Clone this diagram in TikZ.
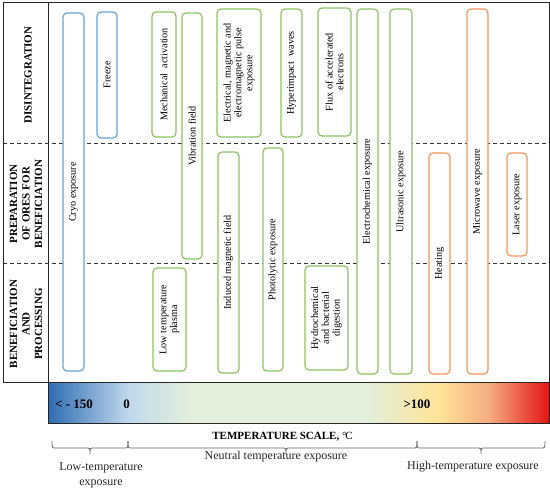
\documentclass[tikz,border=0pt]{standalone}
\usepackage{fontspec}
\setmainfont{Liberation Serif}
\definecolor{bxblue}{RGB}{105,162,220}
\definecolor{bxgreen}{RGB}{140,196,96}
\definecolor{bxorange}{RGB}{244,150,90}
\definecolor{gb1}{RGB}{46,108,178}
\definecolor{gb2}{RGB}{192,216,238}
\definecolor{gg}{RGB}{226,239,218}
\definecolor{gy}{RGB}{255,228,150}
\definecolor{go}{RGB}{244,172,130}
\definecolor{grd}{RGB}{228,20,20}
\pgfdeclarehorizontalshading{tempscale}{100bp}{color(0bp)=(gb1); color(25bp)=(gb1); color(33bp)=(gb2); color(39bp)=(gg); color(57bp)=(gg); color(64bp)=(gy); color(69bp)=(go); color(75bp)=(grd); color(100bp)=(grd)}
\tikzset{
  bx/.style={draw=#1, line width=1.2pt, rounded corners=4pt, fill=white, rotate=90,
    inner sep=1pt, align=center, font=\fontsize{10.2}{10.8}\selectfont},
  phase/.style={rotate=90, align=center, inner sep=0pt, font=\bfseries\fontsize{11}{12.5}\selectfont},
  dashline/.style={dash pattern=on 4pt off 3pt, line width=1pt, black!80},
  framel/.style={line width=1pt, black!85},
  brace/.style={draw=black!60, line width=0.8pt},
  lbl/.style={font=\fontsize{12}{15}\selectfont, align=center, text=black!85, inner sep=0pt},
  scalelbl/.style={font=\bfseries\fontsize{13}{13}\selectfont, inner sep=0pt},
}
\begin{document}
\begin{tikzpicture}[x=1pt,y=-1pt]
\useasboundingbox (0,0) rectangle (550,492);
% dashed separators
\coordinate (d1a) at (3,144); \coordinate (d1b) at (549,144);
\coordinate (d2a) at (3,264); \coordinate (d2b) at (549,264);
\draw[dashline] (d1a) -- (d1b);
\draw[dashline] (d2a) -- (d2b);
% frame
\draw[framel] (3,3) rectangle (549,383);
\draw[framel] (48,3) -- (48,383);
% phase labels
\node[phase] (ph1) at (28,75) {DISINTEGRATION};
\node[phase] (ph2) at (26,204) {PREPARATION\\OF ORES FOR\\BENEFICIATION};
\node[phase] (ph3) at (26,324) {BENEFICIATION\\AND\\PROCESSING};
% boxes
\node[bx=bxblue, minimum width=358pt, minimum height=21pt] (cryo) at (73.5,192) {Cryo exposure};
\node[bx=bxblue, minimum width=126pt, minimum height=20pt] (freeze) at (107,75) {Freeze};
\node[bx=bxgreen, minimum width=125pt, minimum height=24pt] (mech) at (164,74.5) {Mechanical\ \ activation};
\node[bx=bxgreen, minimum width=246pt, minimum height=20pt] (vib) at (192,136) {Vibration field};
\node[bx=bxgreen, minimum width=128pt, minimum height=44pt] (elec) at (239,73) {Electrical, magnetic and\\electromagnetic pulse\\exposure};
\node[bx=bxgreen, minimum width=128pt, minimum height=21pt] (hyper) at (291.5,73) {Hyperimpact\ \ waves};
\node[bx=bxgreen, minimum width=128pt, minimum height=33pt] (flux) at (334.5,72) {Flux of accelerated\\electrons};
\node[bx=bxgreen, minimum width=365pt, minimum height=21pt] (echem) at (367.5,191.5) {Electrochemical exposure};
\node[bx=bxgreen, minimum width=365pt, minimum height=22pt] (ultra) at (401,191.5) {Ultrasonic exposure};
\node[bx=bxorange, minimum width=365pt, minimum height=21pt] (micro) at (477.5,191.5) {Microwave exposure};
\node[bx=bxorange, minimum width=221pt, minimum height=21pt] (heat) at (439.5,263.5) {Heating};
\node[bx=bxorange, minimum width=103pt, minimum height=20pt] (laser) at (517,204.5) {Laser exposure};
\node[bx=bxgreen, minimum width=221pt, minimum height=21pt] (induced) at (228.5,262.5) {Induced magnetic field};
\node[bx=bxgreen, minimum width=223pt, minimum height=20pt] (photo) at (273,259.5) {Photolytic exposure};
\node[bx=bxgreen, minimum width=103pt, minimum height=33pt] (plasma) at (169.5,319.5) {Low temperature\\plasma};
\node[bx=bxgreen, minimum width=104pt, minimum height=43pt] (hydro) at (326.5,318) {Hydrochemical\\and bacterial\\digestion};
% temperature bar
\shade[shading=tempscale] (48,383) rectangle (549,424);
\draw[framel] (48,383) rectangle (549,424);
\node[scalelbl] (tmin) at (74,404) {< - 150};
\node[scalelbl] (tzero) at (126.5,404) {0};
\node[scalelbl] (tmax) at (417,404) {>100};
\node[font=\bfseries\fontsize{11}{11}\selectfont, inner sep=0pt] (title) at (282.5,437) {TEMPERATURE SCALE, {\mdseries °\kern-1.2pt C}};
% braces
\draw[brace] (52,441) .. controls (52,448) .. (56,448) -- (86,448) .. controls (90,448) .. (90,454) .. controls (90,448) .. (94,448) -- (124,448) .. controls (128,448) .. (128,441);
\draw[brace] (128,441) .. controls (128,448) .. (132,448) -- (282,448) .. controls (286,448) .. (286,454) .. controls (286,448) .. (290,448) -- (413,448) .. controls (417,448) .. (417,441);
\draw[brace] (417,441) .. controls (417,448) .. (421,448) -- (477,448) .. controls (481,448) .. (481,454) .. controls (481,448) .. (485,448) -- (541,448) .. controls (545,448) .. (545,441);
\node[lbl] (low) at (101,475.5) {Low-temperature\\exposure};
\node[lbl] (neutral) at (276,457) {Neutral temperature exposure};
\node[lbl] (high) at (473,467) {High-temperature exposure};
\end{tikzpicture}
\end{document}
